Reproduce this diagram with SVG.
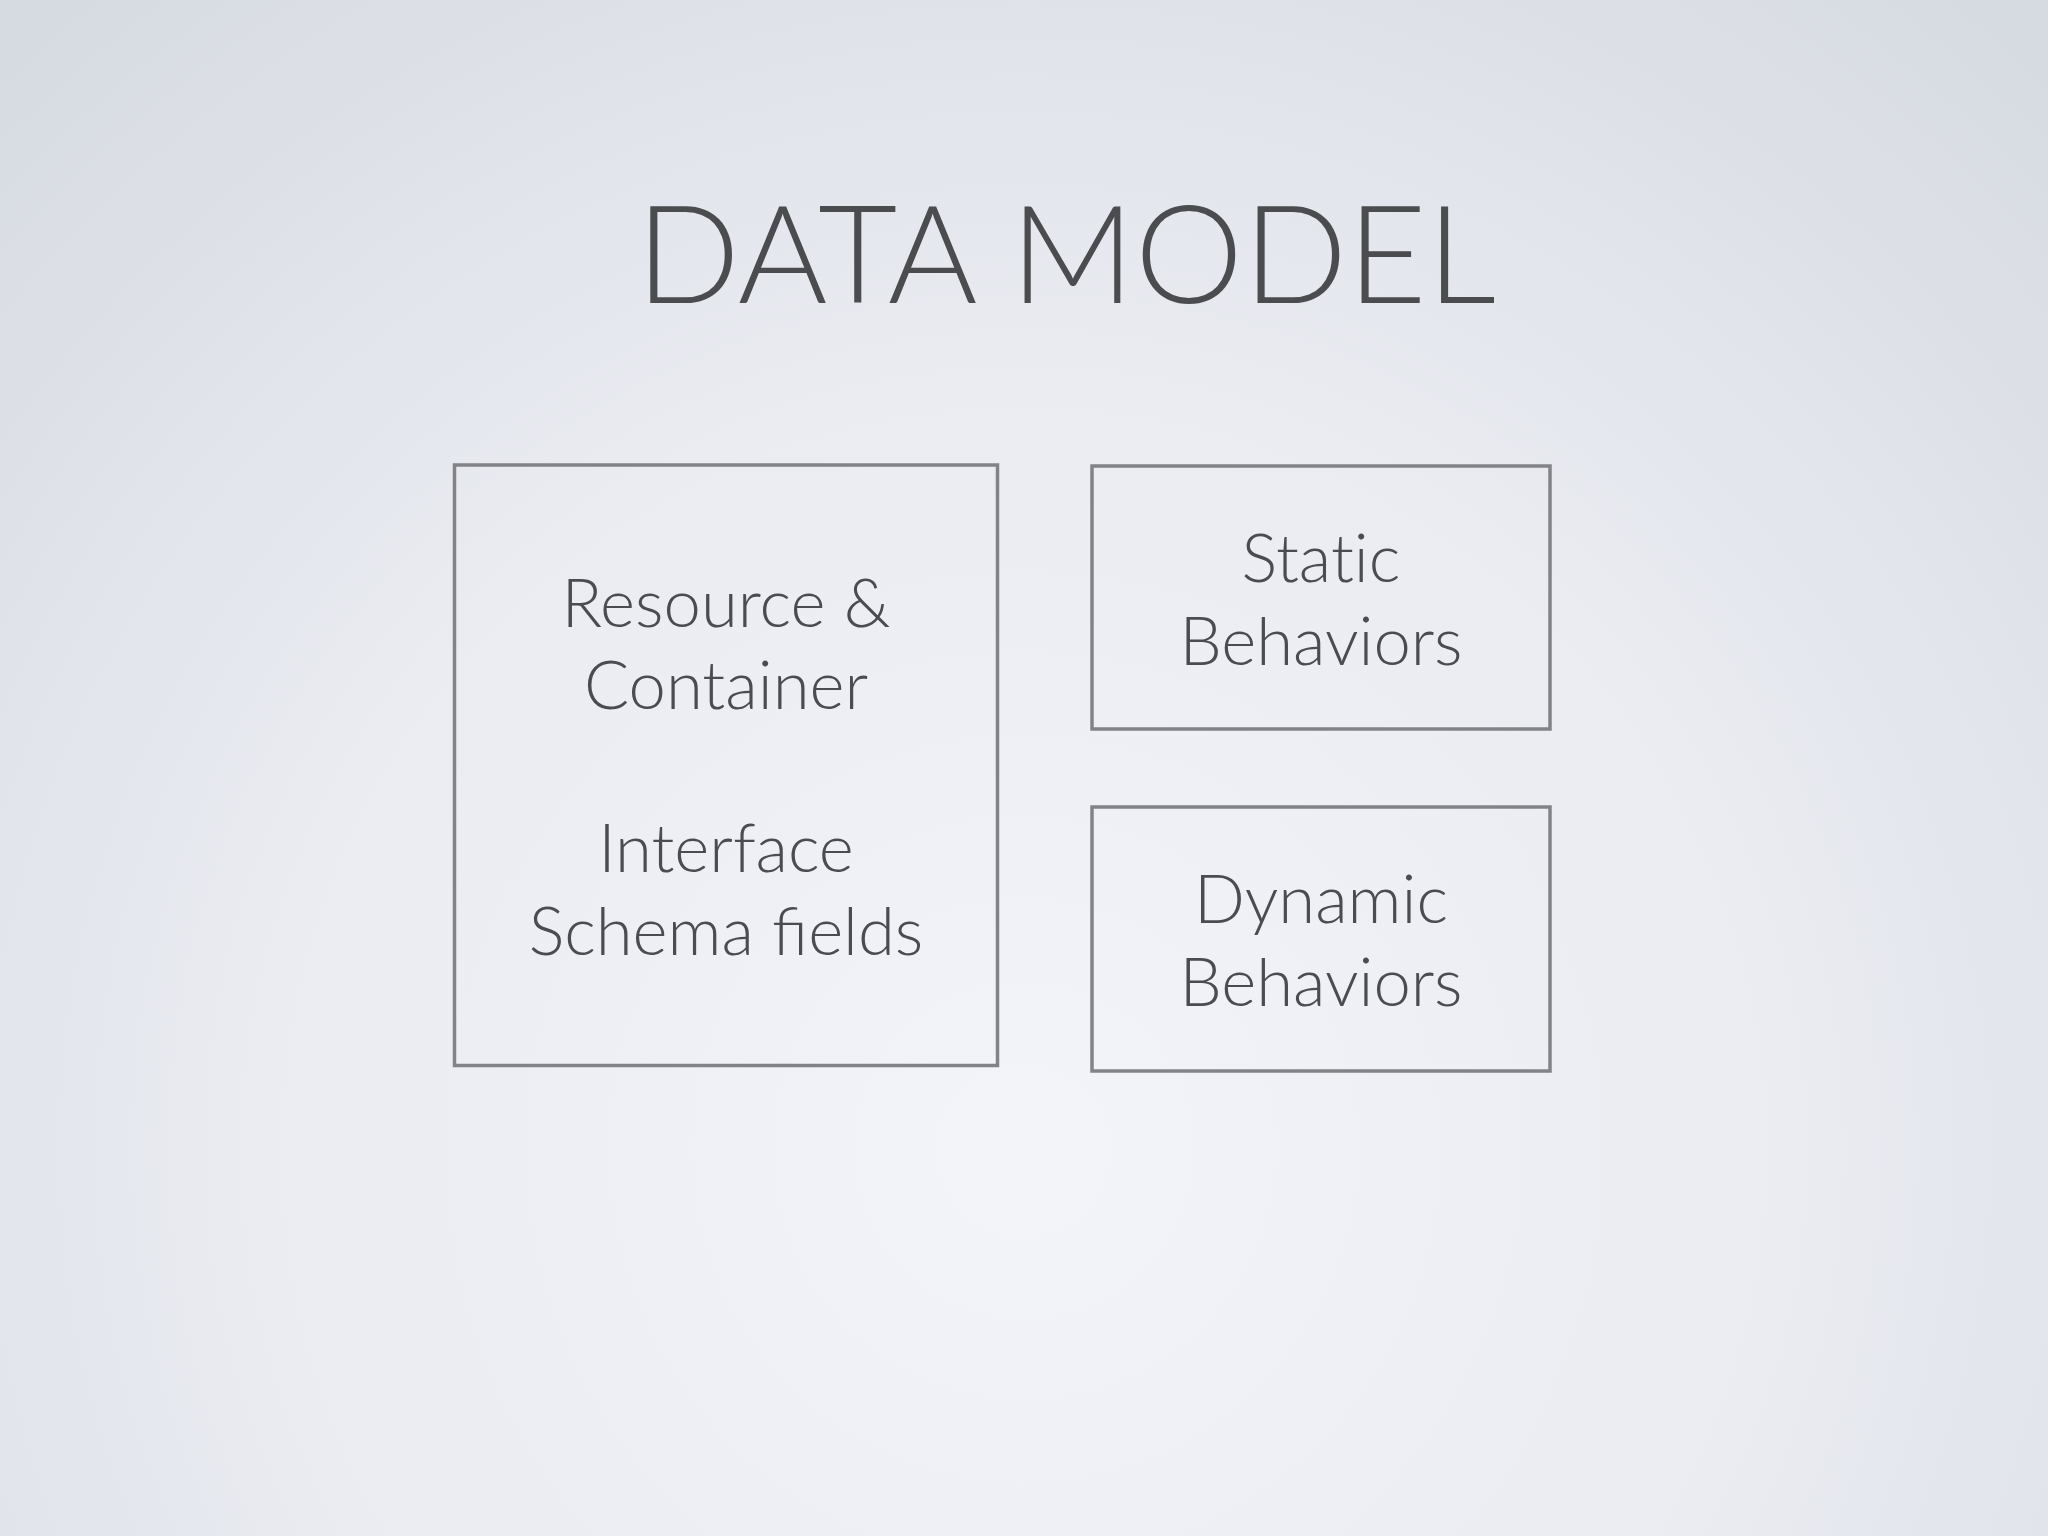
<svg xmlns="http://www.w3.org/2000/svg" width="2048" height="1536" viewBox="0 0 2048 1536">
  <defs>
    <radialGradient id="bg" cx="1024" cy="1150" r="1500" gradientUnits="userSpaceOnUse">
      <stop offset="0" stop-color="#f3f4f9"/>
      <stop offset="0.5" stop-color="#eaecf2"/>
      <stop offset="1" stop-color="#d6dae1"/>
    </radialGradient>
    <style>
      .box { fill: none; stroke: #828388; stroke-width: 3.5; }
      .lbl { font-family: Lato, "Open Sans", "Liberation Sans", sans-serif; font-weight: 300; fill: #4b4c50; text-anchor: middle; font-size: 67px; }
      .title { font-family: Lato, "Open Sans", "Liberation Sans", sans-serif; font-weight: 300; fill: #4b4c50; text-anchor: middle; font-size: 137px; }
      .nolig { font-variant-ligatures: no-common-ligatures; }
    </style>
  </defs>
  <rect x="0" y="0" width="2048" height="1536" fill="url(#bg)"/>
  <text class="title" x="1066" y="303">DATA MODEL</text>
  <g id="node-resource">
    <rect class="box" x="454.5" y="465" width="543" height="600.5"/>
    <text class="lbl" x="726" y="627">Resource &amp;</text>
    <text class="lbl" x="726" y="709">Container</text>
    <text class="lbl" x="726" y="872">Interface</text>
    <text class="lbl" x="726" y="955">Schema fields</text>
  </g>
  <g id="node-static">
    <rect class="box" x="1092" y="466" width="458" height="263"/>
    <text class="lbl nolig" x="1321" y="582">Static</text>
    <text class="lbl" x="1321" y="665">Behaviors</text>
  </g>
  <g id="node-dynamic">
    <rect class="box" x="1092" y="807" width="458" height="264"/>
    <text class="lbl" x="1321" y="923">Dynamic</text>
    <text class="lbl" x="1321" y="1006">Behaviors</text>
  </g>
  <g id="connectors"/>
</svg>
